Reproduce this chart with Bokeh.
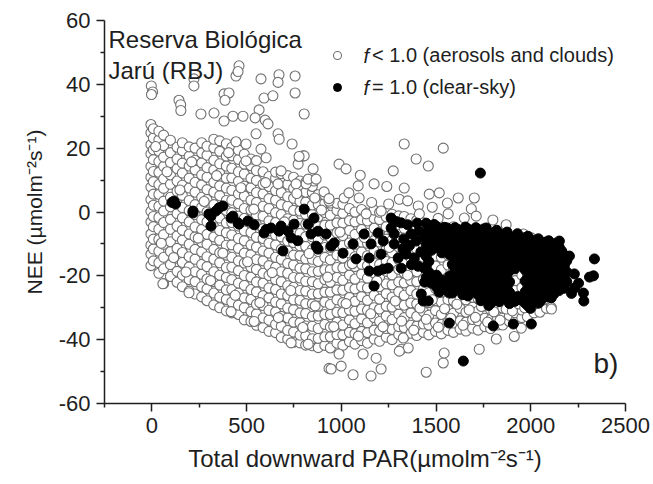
from bokeh.plotting import figure
from bokeh.models import Range1d, FixedTicker, Legend, LegendItem, Label
from bokeh.embed import file_html
from bokeh.resources import INLINE

# ---------------- data ----------------
# f < 1.0 (aerosols and clouds): dense cloud, grouped in PAR columns
open_col_par = [-5, 8, 37, 62, 98, 133, 161, 197, 228, 263, 291, 327, 358, 393, 422, 457, 488,
                523, 552, 587, 618, 653, 683, 717, 748, 782, 812, 847, 878, 913, 942, 977, 1008,
                1043, 1072, 1107, 1138, 1173, 1202, 1237, 1268, 1303, 1332, 1367, 1398, 1433,
                1462, 1497, 1528, 1563, 1592, 1627, 1658, 1693, 1722, 1757, 1788, 1823, 1852,
                1887, 1918, 1953, 1982, 2017, 2048, 2083, 2108]
open_col_nee = [
    [-16.8, -13.2, -10.4, -6.9, -3.1, 0.2, 3.9, 7.8, 10.9, 14.3, 18.2, 21.1, 24.8, 27.4],
    [-15.3, -11.6, -8.5, -4.6, -1.4, 2.1, 5.6, 9.5, 12.7, 16.4, 19.5, 23.2, 26.1],
    [-19.2, -15.9, -12.3, -8.6, -5.4, -1.7, 1.8, 5.5, 8.6, 12.4, 15.8, 19.1, 22.6, 25.3],
    [-22.4, -17.8, -14.2, -10.1, -7.1, -3.3, 0.3, 3.4, 7.4, 10.4, 14.3, 17.2, 20.8, 24.1],
    [-20.2, -16.5, -12.4, -9.3, -5.4, -2.3, 1.6, 4.6, 8.7, 11.6, 15.5, 18.6, 22.5],
    [-22.0, -18.6, -14.5, -11.4, -7.5, -4.4, -0.5, 2.7, 6.5, 9.7, 13.6, 16.6, 20.3],
    [-23.4, -19.8, -15.8, -12.7, -8.8, -5.7, -1.8, 1.4, 5.2, 8.4, 12.2, 15.3, 19.2, 21.7],
    [-24.8, -21.2, -17.2, -14.0, -10.1, -6.9, -3.1, 0.4, 3.6, 7.5, 10.6, 14.4, 17.5, 20.4],
    [-25.7, -21.8, -18.7, -14.8, -11.7, -7.8, -4.7, -0.8, 2.3, 6.2, 9.3, 13.2, 16.2, 20.0],
    [-26.6, -23.4, -19.5, -16.4, -12.5, -9.4, -5.5, -2.4, 1.5, 4.6, 8.5, 11.6, 15.4, 18.5, 21.7],
    [-27.8, -24.1, -21.0, -17.1, -14.0, -10.1, -7.0, -3.1, 0.0, 3.9, 7.0, 10.9, 13.9, 17.8, 20.6],
    [-29.1, -25.4, -21.8, -18.7, -14.8, -11.7, -7.8, -4.7, -0.8, 2.3, 6.2, 9.3, 13.2, 16.2, 20.1, 22.8],
    [-30.0, -26.7, -22.9, -19.8, -15.9, -12.8, -8.9, -5.8, -1.9, 1.2, 5.1, 8.2, 12.1, 15.1, 19.0, 22.3],
    [-31.0, -27.4, -24.4, -20.5, -17.4, -13.5, -10.4, -6.5, -3.4, 0.5, 3.6, 7.5, 10.6, 14.4, 17.5, 21.4],
    [-31.6, -28.2, -24.3, -21.2, -17.3, -14.2, -10.3, -7.2, -3.3, -0.2, 3.7, 6.8, 10.7, 13.7, 17.6, 20.3],
    [-32.1, -29.2, -25.4, -22.3, -18.4, -15.3, -11.4, -8.3, -4.4, -1.3, 2.6, 5.7, 9.6, 12.6, 16.5, 19.4],
    [-33.8, -30.0, -26.9, -23.0, -19.9, -16.0, -12.9, -9.0, -5.9, -2.0, 1.1, 5.0, 8.1, 11.9, 15.0, 18.1],
    [-34.3, -31.2, -27.4, -24.3, -20.4, -17.3, -13.4, -10.3, -6.4, -3.3, 0.6, 3.7, 7.6, 10.6, 14.5, 16.6],
    [-35.5, -31.9, -28.9, -25.0, -21.9, -18.0, -14.9, -11.0, -7.9, -4.0, -0.9, 3.0, 6.1, 9.9, 13.0, 16.1],
    [-36.2, -33.2, -29.3, -26.2, -22.3, -19.2, -15.3, -12.2, -8.3, -5.2, -1.3, 1.8, 5.7, 8.7, 12.6],
    [-37.4, -33.9, -30.8, -26.9, -23.8, -19.9, -16.8, -12.9, -9.8, -5.9, -2.8, 1.1, 4.2, 8.0, 11.1],
    [-37.8, -35.2, -31.3, -28.2, -24.3, -21.2, -17.3, -14.2, -10.3, -7.2, -3.3, -0.2, 3.7, 6.7, 10.6, 12.5],
    [-39.3, -35.8, -32.7, -28.8, -25.7, -21.8, -18.7, -14.8, -11.7, -7.8, -4.7, -0.8, 2.3, 6.1, 9.2, 12.0],
    [-39.8, -37.1, -33.2, -30.1, -26.2, -23.1, -19.2, -16.1, -12.2, -9.1, -5.2, -2.1, 1.8, 4.8, 8.7, 11.4],
    [-40.8, -37.6, -34.5, -30.6, -27.5, -23.6, -20.5, -16.6, -13.5, -9.6, -6.5, -2.6, 0.5, 4.3, 7.4, 10.9],
    [-41.0, -38.6, -34.7, -31.6, -27.7, -24.6, -20.7, -17.6, -13.7, -10.6, -6.7, -3.6, 0.3, 3.3, 7.2, 9.7],
    [-41.7, -38.8, -35.7, -31.8, -28.7, -24.8, -21.7, -17.8, -14.7, -10.8, -7.7, -3.8, -0.7, 3.1, 6.2, 9.3],
    [-41.9, -39.7, -35.8, -32.7, -28.8, -25.7, -21.8, -18.7, -14.8, -11.7, -7.8, -4.7, -0.8, 2.2, 6.1, 8.0],
    [-42.5, -39.6, -36.5, -32.6, -29.5, -25.6, -22.5, -18.6, -15.5, -11.6, -8.5, -4.6, -1.5, 2.3, 5.4],
    [-41.8, -39.1, -35.2, -32.1, -28.2, -25.1, -21.2, -18.1, -14.2, -11.1, -7.2, -4.1, -0.2, 2.8, 5.3],
    [-42.6, -39.1, -36.0, -32.1, -29.0, -25.1, -22.0, -18.1, -15.0, -11.1, -8.0, -4.1, -1.0, 2.8],
    [-41.1, -38.4, -34.5, -31.4, -27.5, -24.4, -20.5, -17.4, -13.5, -10.4, -6.5, -3.4, 0.5, 2.7],
    [-41.8, -38.5, -35.4, -31.5, -28.4, -24.5, -21.4, -17.5, -14.4, -10.5, -7.4, -3.5, -0.4, 2.4],
    [-40.6, -37.7, -33.8, -30.7, -26.8, -23.7, -19.8, -16.7, -12.8, -9.7, -5.8, -2.7, 1.1],
    [-41.4, -38.1, -35.0, -31.1, -28.0, -24.1, -21.0, -17.1, -14.0, -10.1, -7.0, -3.1, 0.0],
    [-40.3, -37.4, -33.5, -30.4, -26.5, -23.4, -19.5, -16.4, -12.5, -9.4, -5.5, -2.4, 0.8],
    [-41.1, -37.8, -34.7, -30.8, -27.7, -23.8, -20.7, -16.8, -13.7, -9.8, -6.7, -2.8, -0.3],
    [-39.8, -37.0, -33.1, -30.0, -26.1, -23.0, -19.1, -16.0, -12.1, -9.0, -5.1, -2.0, 0.6],
    [-40.5, -37.4, -34.3, -30.4, -27.3, -23.4, -20.3, -16.4, -13.3, -9.4, -6.3, -2.4, -0.1],
    [-39.2, -36.5, -32.6, -29.5, -25.6, -22.5, -18.6, -15.5, -11.6, -8.5, -4.6, -1.5],
    [-40.0, -36.8, -33.7, -29.8, -26.7, -22.8, -19.7, -15.8, -12.7, -8.8, -5.7, -1.8, -0.7],
    [-38.4, -35.9, -32.0, -28.9, -25.0, -21.9, -18.0, -14.9, -11.0, -7.9, -4.0, -1.2],
    [-39.1, -36.2, -33.1, -29.2, -26.1, -22.2, -19.1, -15.2, -12.1, -8.2, -5.1, -1.4],
    [-38.0, -35.5, -31.6, -28.5, -24.6, -21.5, -17.6, -14.5, -10.6, -7.5, -3.6, -2.1],
    [-38.7, -35.8, -32.7, -28.8, -25.7, -21.8, -18.7, -14.8, -11.7, -7.8, -4.7, -2.6],
    [-37.7, -35.1, -31.2, -28.1, -24.2, -21.1, -17.2, -14.1, -10.2, -7.1, -3.4],
    [-38.5, -35.4, -32.3, -28.4, -25.3, -21.4, -18.3, -14.4, -11.3, -7.4, -4.3],
    [-37.4, -34.8, -30.9, -27.8, -23.9, -20.8, -16.9, -13.8, -9.9, -6.8, -4.1],
    [-38.2, -35.2, -32.1, -28.2, -25.1, -21.2, -18.1, -14.2, -11.1, -7.2, -4.8],
    [-37.1, -34.5, -30.6, -27.5, -23.6, -20.5, -16.6, -13.5, -9.6, -6.5],
    [-37.7, -34.8, -31.7, -27.8, -24.7, -20.8, -17.7, -13.8, -10.7, -6.8, -4.6],
    [-36.7, -34.1, -30.2, -27.1, -23.2, -20.1, -16.2, -13.1, -9.2, -6.1],
    [-37.3, -34.5, -31.4, -27.5, -24.4, -20.5, -17.4, -13.5, -10.4, -6.5, -5.2],
    [-36.4, -33.7, -29.8, -26.7, -22.8, -19.7, -15.8, -12.7, -8.8, -5.7],
    [-37.0, -34.1, -31.0, -27.1, -24.0, -20.1, -17.0, -13.1, -10.0, -6.2],
    [-35.9, -33.3, -29.4, -26.3, -22.4, -19.3, -15.4, -12.3, -8.4, -6.1],
    [-36.5, -33.7, -30.6, -26.7, -23.6, -19.7, -16.6, -12.7, -9.6, -6.7],
    [-35.4, -32.9, -29.0, -25.9, -22.0, -18.9, -15.0, -11.9, -8.0],
    [-35.4, -33.2, -30.1, -26.2, -23.1, -19.2, -16.1, -12.2, -9.1, -7.0],
    [-34.3, -32.4, -28.5, -25.4, -21.5, -18.4, -14.5, -11.4, -7.7],
    [-34.2, -31.6, -28.5, -24.6, -21.5, -17.6, -14.5, -10.6, -8.6],
    [-33.1, -30.7, -26.8, -23.7, -19.8, -16.7, -12.8, -9.7],
    [-32.8, -29.7, -26.6, -22.7, -19.6, -15.7, -12.6, -9.4],
    [-31.6, -29.0, -25.1, -22.0, -18.1, -15.0, -11.1],
    [-31.4, -27.9, -24.8, -20.9, -17.8, -13.9, -12.2],
    [-30.2, -27.4, -23.5, -20.4, -16.5, -14.1],
    [-29.9, -26.1, -23.0, -19.1, -16.3],
]
# scattered f < 1.0 points (outliers and points lying between the columns)
open_extra_par = [-3, 4, -2, 143, 152, 153, 222, 222, 259, 328, 381, 407, 386, 381, 444, 460, 455,
                  428, 481, 576, 592, 639, 671, 666, 756, 756, 566, 545, 598, 613, 804, 550, 666,
                  672, 740, 798, 772, 851, 856, 814, 909, 860, 804, 988, 1025, 1089, 1173, 1274,
                  1332, 1395, 1459, 1538, 1332, 1306, 1464, 1517, 1617, 1702, 1686, 1406, 1412,
                  1094, 1015, 935, 1131, 1210, 1511, 1564, 1649, 1712, 1961, 497, 576, 603, 497,
                  682, 666, 761, 825, 867, 935, 444, 777, 1040, 1160, 1250, 1350, 1480, 1560,
                  1800, 1870, 1240, 1100, 2000,
                  58, 196, 418, 540, 735, 935, 946, 999, 1062, 1157, 1210, 1115, 1184, 1316,
                  1448, 1538, 1543, 1728, 1818, 1913, 2109, 1950, 1327, 825, 988, 1353, 1306,
                  20, 50, 80, 115, 148, 180, 210, 245, 276, 310, 342, 375, 405, 440, 470, 505,
                  538, 570, 600, 635, 668, 700, 733, 765, 797, 830, 862, 895, 928, 960, 993,
                  1025, 1058, 1090, 1122, 1155, 1188, 1220, 1253, 1285, 1318, 1350, 1382, 1415,
                  1448, 1480, 1512, 1545, 1578, 1610, 1642, 1675, 1708, 1740, 1772, 1805, 1838,
                  1870, 1903, 1935, 1968, 2000, 2032, 2065, 2095]
open_extra_nee = [39.5, 37.6, 36.8, 35.0, 33.6, 31.8, 41.7, 39.5, 30.7, 31.0, 37.0, 37.3, 35.0,
                  28.5, 42.6, 45.8, 44.0, 30.0, 30.0, 41.7, 35.7, 36.4, 43.0, 40.6, 42.6, 37.3,
                  32.0, 29.5, 28.8, 27.6, 30.7, 24.5, 24.5, 22.8, 21.3, 17.6, 15.0, 13.5, 9.7,
                  8.8, 6.3, 4.4, 17.6, 15.0, 13.5, 8.2, 8.8, 12.9, 21.3, 16.6, 14.4, 20.0, 7.5,
                  4.0, 5.6, 6.0, 4.4, 4.4, 1.0, 1.9, -0.6, 4.4, 4.4, 3.4, -0.6, 0.3, -2.0, -0.6,
                  -1.9, -1.3, -6.9, 21.3, 19.7, 17.0, 16.0, 12.9, 8.8, 8.8, 10.3, 10.3, 4.2,
                  22.0, 17.4, 6.0, 3.0, 2.5, 3.5, 1.5, 2.8, -2.5, -4.0, 8.0, 11.5, -8.0,
                  -22.5, -25.3, -31.2, -34.3, -41.0, -49.0, -49.2, -48.3, -51.0, -51.4, -49.2,
                  -44.5, -45.8, -43.0, -50.2, -47.3, -44.2, -43.0, -39.8, -39.0, -30.4, -36.4,
                  -39.5, -41.4, -44.5, -42.6, -43.6,
                  20.5, -9.8, 12.6, -14.3, 6.9, -18.8, 15.7, -8.2, 3.3, -21.5, 11.4, -12.9, 18.6,
                  -26.1, 7.6, -15.6, 0.9, -28.4, 9.2, -19.0, -33.1, -3.1, -24.6, 5.8, -36.2,
                  -13.0, -29.4, 0.6, -20.4, -35.9, -6.3, -28.7, -16.2, -38.9, -8.0, -31.9, -21.6,
                  -36.0, -11.1, -27.9, -34.2, -19.8, -37.0, -30.1, -33.6, -27.5, -36.1, -30.3,
                  -33.3, -28.9, -35.5, -30.7, -33.0, -29.6, -34.5, -31.3, -33.9, -30.4, -31.0,
                  -28.8, -30.0, -27.0, -24.3, -27.6, -21.5]

# f = 1.0 (clear-sky): dense block grouped in PAR columns
clear_col_par = [1448, 1462, 1476, 1490, 1503, 1517, 1531, 1545, 1558, 1572, 1586, 1600, 1613,
                 1627, 1641, 1655, 1668, 1682, 1696, 1710, 1723, 1737, 1751, 1765, 1778, 1792,
                 1806, 1820, 1833, 1847, 1861, 1875, 1888, 1902, 1916, 1930, 1943, 1957, 1971,
                 1985, 1998, 2012, 2026, 2040, 2053, 2067, 2081, 2095, 2108, 2122, 2136, 2150,
                 2163, 2177, 2190]
clear_col_nee = [
    [-3.5, -7.0, -10.2, -13.9, -17.1, -20.6],
    [-5.3, -8.6, -12.1, -15.5, -18.9],
    [-5.2, -8.6, -12.0, -22.3],
    [-3.9, -6.9, -10.3, -21.0],
    [-4.6, -7.9, -11.1, -19.8, -23.6],
    [-6.2, -9.6, -22.0, -25.1],
    [-6.1, -9.5, -12.8, -21.4, -24.2],
    [-4.8, -7.8, -11.2, -23.0],
    [-5.0, -8.3, -11.7, -22.0],
    [-6.6, -10.0, -13.4, -20.1, -24.0],
    [-6.3, -9.8, -13.2, -16.4, -19.9, -23.3, -25.4],
    [-4.9, -8.1, -11.5, -14.8, -18.2, -21.6, -24.6],
    [-5.4, -8.7, -12.1, -15.6, -18.8, -22.4],
    [-7.1, -10.4, -13.8, -17.2, -20.5, -24.0],
    [-6.0, -9.6, -12.9, -16.3, -19.5, -23.1, -25.9],
    [-4.7, -7.9, -11.3, -14.6, -18.0, -21.4, -24.7],
    [-5.3, -8.8, -12.2, -15.4, -18.9, -22.2, -26.3],
    [-7.2, -10.6, -13.9, -17.4, -20.7, -24.2],
    [-6.4, -9.9, -13.3, -16.6, -20.0, -23.4],
    [-4.9, -8.2, -11.6, -15.0, -18.3, -21.8, -25.2],
    [-5.6, -8.9, -12.4, -15.7, -19.1, -22.6, -26.0],
    [-7.3, -10.7, -14.1, -17.5, -20.9, -24.5, -27.8],
    [-5.3, -9.5, -13.0, -16.4, -19.7, -23.2, -27.4],
    [-5.0, -8.2, -11.7, -15.1, -18.5, -21.9, -25.6],
    [-6.6, -10.0, -13.4, -16.9, -20.3, -23.7, -29.3],
    [-8.3, -11.8, -15.2, -18.6, -22.0, -25.5, -28.4],
    [-6.9, -10.5, -13.8, -17.2, -20.6, -24.1, -27.0],
    [-5.7, -8.8, -12.2, -15.6, -19.0, -22.3, -25.8],
    [-7.4, -10.8, -14.1, -17.6, -21.0, -24.5, -28.1],
    [-9.0, -12.4, -15.8, -19.2, -22.6, -26.9],
    [-7.0, -10.4, -13.9, -17.3, -20.7, -25.9],
    [-6.3, -9.2, -12.6, -16.0, -19.4, -23.5, -27.5],
    [-8.1, -11.6, -15.0, -18.4, -21.9, -25.2, -28.7],
    [-9.8, -13.3, -16.7, -26.8],
    [-7.7, -11.1, -14.5, -17.8, -28.0],
    [-6.8, -9.7, -13.1, -16.4, -26.5],
    [-8.4, -11.9, -15.3, -27.5],
    [-10.1, -13.6, -17.0, -27.3],
    [-8.0, -11.4, -14.8, -18.2, -21.6, -25.0, -28.6],
    [-7.6, -10.3, -13.8, -17.1, -20.5, -24.0, -29.4],
    [-8.6, -12.1, -15.5, -18.9, -22.3, -26.1, -30.2],
    [-10.6, -14.0, -17.4, -20.8, -24.4, -27.9],
    [-9.2, -12.7, -16.1, -19.5, -22.9, -26.4],
    [-8.4, -11.2, -14.6, -18.0, -21.4, -25.0, -28.6],
    [-10.0, -13.4, -16.8, -20.1, -23.6, -27.8],
    [-11.4, -14.9, -18.3, -21.7, -25.2],
    [-9.4, -12.9, -16.3, -19.8, -23.1, -26.5],
    [-9.0, -11.8, -15.1, -18.5, -21.9, -25.3],
    [-10.3, -13.8, -17.2, -20.6, -24.0, -26.9],
    [-12.0, -15.5, -18.9, -22.3, -25.7],
    [-9.7, -13.1, -16.6, -20.0, -23.3],
    [-11.0, -14.3, -17.8, -21.2, -24.6],
    [-12.2, -15.8, -19.2, -22.6],
    [-13.5, -16.9, -20.4, -23.9],
    [-15.3, -18.8, -21.9],
]
# remaining clear-sky points
clear_extra_par = [106, 116, 125, 217, 217, 301, 312, 312, 338, 354, 375, 418, 428, 455, 460, 507,
                   540, 592, 603, 629, 671, 682, 692, 719, 735, 751, 770, 804, 825, 840, 856, 867,
                   877, 877, 920, 946, 962, 1009, 1062, 1078, 1120, 1157, 1147, 1147, 1173, 1194,
                   1221, 1210, 1194, 1221, 1263, 1263, 1279, 1279, 1300, 1316, 1247, 1316, 1369,
                   1395, 1342, 1385, 1422, 1432, 1459, 1438, 1464,
                   1290, 1330, 1350, 1360, 1400, 1410, 1420, 1440, 1405, 1440, 1370, 1325,
                   1734, 1570, 1802, 1908, 2003, 1644, 1459, 1570,
                   2204, 2230, 2232, 2252, 2278, 2280, 2310, 2331, 2336, 2151, 2215]
clear_extra_nee = [3.0, 3.4, 2.5, 0.3, -0.3, -0.6, -1.3, -4.4, 0.3, 1.3, 1.9, -1.9, -1.3, -3.4,
                   -3.8, -2.8, -4.0, -6.6, -5.5, -5.0, -6.0, -4.4, -12.2, -6.0, -8.1, -3.8, -9.0,
                   0.9, -3.8, -6.9, -1.9, -10.7, -6.0, -11.6, -6.9, -10.7, -9.7, -12.9, -10.0,
                   -14.7, -6.9, -10.0, -14.4, -18.5, -23.2, -6.6, -9.1, -13.2, -18.5, -17.9, -1.9,
                   -5.0, -10.0, -6.9, -14.4, -17.6, -17.6, -3.4, -6.9, -9.1, -13.2, -14.4, -25.7,
                   -27.9, -11.3, -17.6, -21.6,
                   -3.0, -8.5, -4.0, -10.5, -3.5, -6.0, -12.5, -8.0, -17.0, -22.0, -16.5, -11.5,
                   12.2, -34.8, -35.7, -35.1, -35.1, -46.7, -27.9, -25.4,
                   -13.8, -19.4, -23.8, -22.3, -25.4, -27.9, -20.4, -20.0, -14.7, -9.1, -25.5]

x_ticks = [0, 500, 1000, 1500, 2000, 2500]
x_minor = [-250, 250, 750, 1250, 1750, 2250]
y_ticks = [-60, -40, -20, 0, 20, 40, 60]
y_minor = [-50, -30, -10, 10, 30, 50]

open_par = [x for x, ys in zip(open_col_par, open_col_nee) for _ in ys] + open_extra_par
open_nee = [y for ys in open_col_nee for y in ys] + open_extra_nee
clear_par = [x for x, ys in zip(clear_col_par, clear_col_nee) for _ in ys] + clear_extra_par
clear_nee = [y for ys in clear_col_nee for y in ys] + clear_extra_nee

FONT = "Liberation Sans"
INK = "#1e1e1e"

p = figure(width=653, height=484, x_range=Range1d(-250, 2500), y_range=Range1d(-60, 60),
           output_backend="svg", toolbar_location=None,
           min_border_left=104, min_border_right=28, min_border_top=20, min_border_bottom=81)
p.outline_line_color = None
p.grid.visible = False
p.background_fill_color = "white"

r_open = p.scatter(open_par, open_nee, size=10, marker="circle", fill_color="white",
                   line_color="#707070", line_width=1.1)
r_clear = p.scatter(clear_par, clear_nee, size=10, marker="circle", fill_color="black",
                    line_color="black", line_width=1)

for ax in (p.xaxis[0], p.yaxis[0]):
    ax.axis_line_color = INK
    ax.axis_line_width = 1.5
    ax.major_tick_line_color = INK
    ax.minor_tick_line_color = INK
    ax.major_tick_line_width = 1.5
    ax.minor_tick_line_width = 1.5
    ax.major_tick_out = 8
    ax.major_tick_in = 0
    ax.minor_tick_out = 4
    ax.minor_tick_in = 0
    ax.major_label_text_font = FONT
    ax.major_label_text_font_size = "22px"
    ax.major_label_text_color = INK
    ax.axis_label_text_font = FONT
    ax.axis_label_text_font_style = "normal"
    ax.axis_label_text_color = INK

p.xaxis.ticker = FixedTicker(ticks=x_ticks, minor_ticks=x_minor)
p.yaxis.ticker = FixedTicker(ticks=y_ticks, minor_ticks=y_minor)
p.yaxis.major_label_overrides = {t: str(t) for t in y_ticks}
p.xaxis.major_label_standoff = 6
p.yaxis.major_label_standoff = 6
p.xaxis.axis_label = "Total downward PAR(\u00b5molm\u207b\u00b2s\u207b\u00b9)"
p.yaxis.axis_label = "NEE (\u00b5molm\u207b\u00b2s\u207b\u00b9)"
p.xaxis.axis_label_text_font_size = "24px"
p.yaxis.axis_label_text_font_size = "21px"
p.xaxis.axis_label_standoff = 9
p.yaxis.axis_label_standoff = 10

legend = Legend(items=[LegendItem(label="< 1.0 (aerosols and clouds)", renderers=[r_open]),
                       LegendItem(label="= 1.0 (clear-sky)", renderers=[r_clear])],
                location=(223, 304), orientation="vertical",
                glyph_width=20, glyph_height=24, label_height=24, label_standoff=25,
                spacing=8, padding=0, margin=0,
                label_text_font=FONT, label_text_font_size="20px", label_text_color=INK,
                border_line_color=None, background_fill_alpha=0)
p.add_layout(legend)

for yy in (49.0, 39.0):
    p.add_layout(Label(x=1117, y=yy, text="f", text_font=FONT, text_font_size="20px",
                       text_font_style="italic", text_color=INK, text_baseline="middle"))

p.add_layout(Label(x=-229, y=53.9, text="Reserva Biol\u00f3gica", text_font=FONT,
                   text_font_size="24px", text_color=INK, text_baseline="alphabetic"))
p.add_layout(Label(x=-229, y=44.3, text="Jar\u00fa (RBJ)", text_font=FONT,
                   text_font_size="24px", text_color=INK, text_baseline="alphabetic"))
p.add_layout(Label(x=2331, y=-47.5, text="b)", text_font=FONT, text_font_size="28px",
                   text_color=INK, text_baseline="alphabetic"))

open("out.html", "w").write(file_html(p, INLINE))
